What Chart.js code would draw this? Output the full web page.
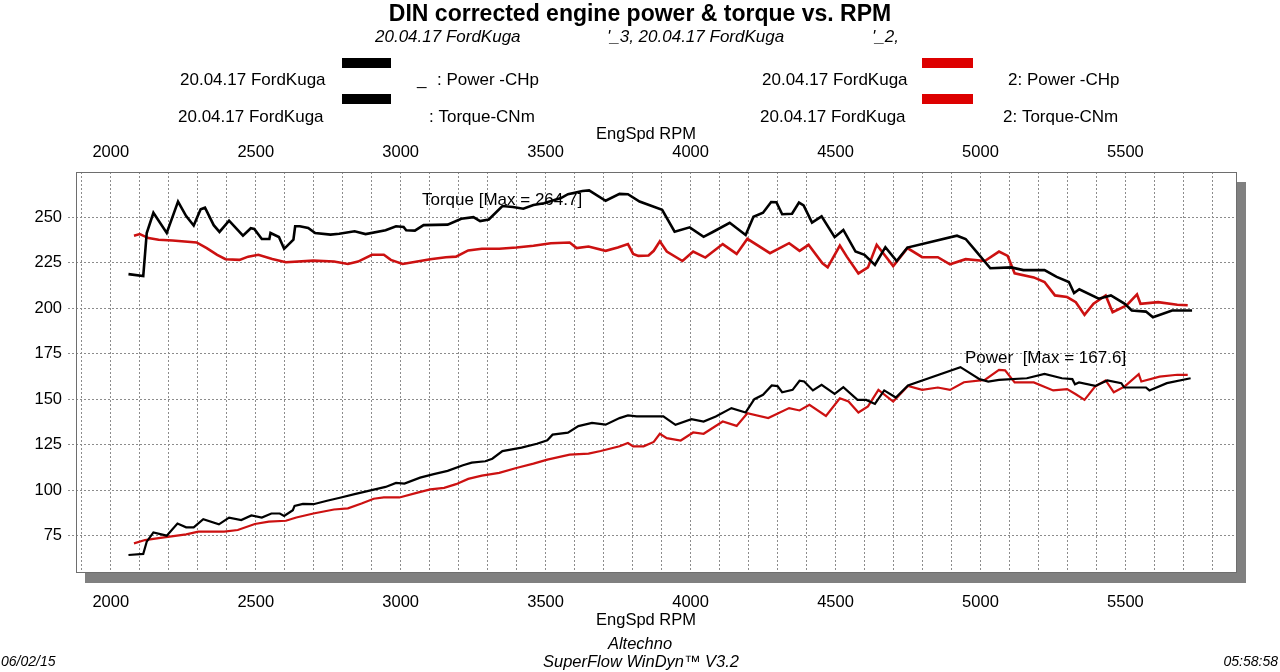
<!DOCTYPE html>
<html>
<head>
<meta charset="utf-8">
<title>DIN corrected engine power & torque vs. RPM</title>
<script src="https://cdn.jsdelivr.net/npm/chart.js@4.4.1/dist/chart.umd.min.js"></script>
<style>
  html, body { margin: 0; padding: 0; background: #fff; }
  canvas { display: block; }
</style>
</head>
<body>
<canvas id="dyno" width="1280" height="672"></canvas>
<script>
// run 1 (black) - torque
const tqBlackRpm = [
  2061, 2112, 2124, 2147, 2193, 2232, 2260, 2286, 2310, 2325,
  2355, 2375, 2408, 2456, 2483, 2495, 2521, 2547, 2551, 2580,
  2598, 2630, 2636, 2652, 2681, 2705, 2758, 2788, 2841, 2879,
  2948, 2984, 3010, 3019, 3049, 3079, 3162, 3209, 3251, 3274,
  3304, 3351, 3387, 3423, 3458, 3494, 3553, 3577, 3627, 3650,
  3707, 3755, 3784, 3824, 3902, 3945, 3997, 4045, 4075, 4135,
  4190, 4217, 4250, 4278, 4296, 4316, 4350, 4374, 4390, 4419,
  4452, 4497, 4527, 4569, 4600, 4636, 4672, 4711, 4748, 4919,
  4949, 4986, 5034, 5106, 5148, 5221, 5263, 5305, 5323, 5341,
  5408, 5450, 5498, 5522, 5571, 5595, 5661, 5730
];
const tqBlackNm = [
  218.7, 217.6, 241.3, 252.4, 241.3, 258.5, 250.6, 245.4, 254.3, 255.2,
  245.6, 241.9, 248.1, 239.8, 243.9, 243.5, 238.0, 238.0, 241.3, 239.1,
  232.6, 237.6, 245.0, 245.0, 244.1, 241.3, 240.4, 240.9, 242.2, 240.7,
  242.8, 245.0, 244.6, 242.8, 242.6, 245.6, 245.9, 249.1, 250.0, 247.8,
  248.7, 256.1, 255.6, 254.6, 256.7, 257.6, 260.5, 262.6, 264.4, 264.7,
  259.0, 262.8, 262.6, 258.6, 254.0, 242.0, 244.4, 239.2, 241.7, 246.9,
  240.2, 250.2, 252.4, 258.3, 258.2, 251.6, 251.9, 258.0, 256.5, 247.0,
  250.4, 239.0, 243.0, 231.1, 229.3, 223.7, 233.5, 225.9, 233.3, 239.8,
  238.0, 231.1, 221.9, 222.4, 220.9, 220.9, 217.2, 214.4, 208.3, 210.4,
  205.2, 207.0, 202.4, 198.7, 198.1, 195.0, 198.7, 198.7
];

// run 2 (red) - torque
const tqRedRpm = [
  2080, 2100, 2130, 2165, 2213, 2296, 2331, 2367, 2396, 2444,
  2474, 2509, 2557, 2604, 2699, 2770, 2818, 2853, 2901, 2942,
  2966, 3007, 3067, 3102, 3156, 3191, 3233, 3280, 3340, 3399,
  3458, 3518, 3583, 3607, 3648, 3707, 3749, 3784, 3802, 3820,
  3855, 3873, 3894, 3918, 3972, 4009, 4051, 4111, 4159, 4196,
  4274, 4340, 4376, 4407, 4455, 4473, 4515, 4539, 4579, 4612,
  4642, 4699, 4748, 4799, 4853, 4895, 4949, 5015, 5064, 5094,
  5118, 5184, 5221, 5257, 5299, 5329, 5359, 5390, 5432, 5456,
  5504, 5540, 5552, 5613, 5679, 5715
];
const tqRedNm = [
  239.8, 240.7, 238.5, 237.6, 237.2, 236.1, 233.0, 229.3, 226.9, 226.5,
  228.3, 229.3, 227.0, 225.2, 226.1, 225.6, 224.3, 225.6, 229.3, 229.3,
  226.5, 224.3, 225.9, 226.9, 228.0, 228.3, 231.7, 232.6, 232.6, 233.3,
  234.3, 235.7, 236.1, 233.0, 233.9, 231.5, 233.3, 235.2, 229.8, 228.7,
  228.9, 231.5, 236.7, 231.1, 225.9, 231.1, 227.8, 235.2, 229.8, 238.1,
  230.2, 235.7, 231.5, 234.8, 224.6, 222.4, 234.4, 228.3, 219.1, 222.4,
  234.8, 223.1, 233.0, 228.0, 228.0, 224.1, 226.9, 225.9, 231.1, 228.7,
  219.1, 216.9, 214.4, 207.0, 206.1, 203.3, 196.3, 202.4, 207.0, 197.8,
  201.5, 207.6, 202.4, 203.3, 201.9, 201.6
];

// run 1 (black) - power
const pwBlackRpm = [
  2061, 2112, 2124, 2147, 2193, 2230, 2260, 2286, 2319, 2373,
  2408, 2450, 2485, 2521, 2554, 2583, 2598, 2628, 2634, 2663,
  2699, 2746, 2794, 2841, 2889, 2948, 2984, 3013, 3067, 3114,
  3162, 3215, 3245, 3292, 3316, 3351, 3417, 3470, 3506, 3524,
  3577, 3613, 3660, 3707, 3755, 3784, 3814, 3906, 3948, 4003,
  4045, 4087, 4141, 4190, 4220, 4250, 4280, 4300, 4316, 4352,
  4376, 4392, 4422, 4452, 4497, 4527, 4576, 4606, 4636, 4668,
  4708, 4750, 4931, 4997, 5027, 5064, 5160, 5221, 5281, 5317,
  5326, 5340, 5396, 5438, 5486, 5496, 5571, 5583, 5643, 5725
];
const pwBlackHp = [
  64.4, 65.0, 71.7, 76.8, 75.0, 81.7, 79.6, 79.6, 84.1, 81.2,
  84.9, 83.6, 86.1, 85.0, 87.2, 87.2, 85.8, 89.0, 91.4, 92.5,
  92.3, 94.2, 96.0, 97.8, 99.6, 101.8, 104.0, 103.6, 106.9, 108.8,
  110.6, 113.7, 115.1, 115.9, 117.3, 121.5, 123.4, 125.5, 127.4, 130.5,
  131.6, 135.2, 137.0, 136.0, 139.6, 141.1, 140.5, 140.5, 135.9, 139.0,
  137.7, 140.5, 145.1, 142.7, 150.0, 152.4, 157.5, 157.2, 153.8, 155.1,
  160.1, 159.7, 154.8, 157.9, 152.9, 156.6, 149.6, 149.6, 147.4, 154.8,
  150.9, 157.5, 167.6, 161.0, 159.7, 160.6, 161.5, 163.9, 161.5, 161.0,
  158.2, 159.2, 157.3, 160.3, 158.8, 156.4, 156.4, 154.8, 158.8, 161.5
];

// run 2 (red) - power
const pwRedRpm = [
  2080, 2118, 2165, 2260, 2302, 2391, 2438, 2497, 2545, 2604,
  2640, 2699, 2770, 2818, 2865, 2907, 2942, 2996, 3055, 3102,
  3150, 3191, 3233, 3280, 3340, 3399, 3458, 3506, 3583, 3648,
  3690, 3755, 3784, 3802, 3838, 3873, 3894, 3918, 3966, 4009,
  4045, 4111, 4159, 4196, 4268, 4340, 4376, 4410, 4467, 4515,
  4545, 4579, 4612, 4648, 4699, 4750, 4799, 4853, 4895, 4943,
  5015, 5064, 5085, 5118, 5184, 5251, 5299, 5329, 5359, 5396,
  5432, 5460, 5498, 5546, 5555, 5618, 5679, 5715
];
const pwRedHp = [
  70.8, 72.6, 73.7, 75.7, 77.2, 77.2, 78.1, 81.4, 82.7, 83.2,
  85.0, 87.2, 89.4, 90.0, 92.7, 95.3, 96.0, 96.0, 98.5, 100.4,
  101.3, 103.3, 106.2, 108.0, 109.5, 112.2, 114.6, 116.8, 119.5, 120.1,
  121.5, 124.1, 125.9, 124.1, 124.1, 126.5, 131.0, 128.6, 127.3, 131.7,
  131.0, 137.7, 135.3, 142.3, 139.6, 145.1, 143.8, 146.9, 140.8, 150.5,
  148.7, 142.7, 146.0, 155.1, 148.7, 157.3, 155.1, 156.4, 155.1, 159.3,
  160.6, 166.1, 165.8, 159.2, 159.2, 154.8, 155.5, 152.7, 149.6, 157.0,
  160.3, 153.8, 157.0, 163.7, 159.7, 162.4, 163.4, 163.3
];

// axis ranges and ticks
const rpmMin = 1880;
const rpmMax = 5885;
const rpmGridStep = 100;
const rpmLabelStep = 500;
const yMin = 54.5;
const yMax = 274.8;
const yStep = 25;

const BLACK = "#000000";
const RED = "#cc1111";
const FONT = '"Liberation Sans", Arial, sans-serif';

function points(xs, ys) {
  return xs.map((x, i) => ({ x: x, y: ys[i] }));
}

// one tick per 100 rpm inside the range (Chart.js would stretch the step otherwise)
function rpmTicks(scale) {
  const list = [];
  for (let v = Math.ceil(rpmMin / rpmGridStep) * rpmGridStep; v <= rpmMax; v += rpmGridStep) {
    list.push({ value: v });
  }
  scale.ticks = list;
}

function rpmLabel(value) {
  return value % rpmLabelStep === 0 ? String(value) : "";
}

function text(ctx, str, x, y, font, align) {
  ctx.font = font;
  ctx.textAlign = align || "left";
  ctx.textBaseline = "middle";
  ctx.fillStyle = "#000";
  ctx.fillText(str, x, y);
}

// shadow, frame and all the loose texts of the dyno sheet
const sheet = {
  id: "sheet",
  beforeDraw(chart) {
    const { ctx, chartArea: a } = chart;
    ctx.save();
    ctx.fillStyle = "#fff";
    ctx.fillRect(0, 0, chart.width, chart.height);
    ctx.fillStyle = "#808080";
    ctx.fillRect(a.left + 9, a.top + 10, a.right - a.left, a.bottom - a.top);
    ctx.fillStyle = "#fff";
    ctx.fillRect(a.left, a.top, a.right - a.left, a.bottom - a.top);
    ctx.restore();
  },
  beforeDatasetsDraw(chart) {
    const ctx = chart.ctx;
    ctx.save();
    text(ctx, "Torque [Max = 264.7]", 422, 200, "17px " + FONT);
    text(ctx, "Power  [Max = 167.6]", 965, 358, "17px " + FONT);
    ctx.restore();
  },
  afterDraw(chart) {
    const { ctx, chartArea: a } = chart;
    ctx.save();
    ctx.strokeStyle = "#6e6e6e";
    ctx.lineWidth = 1;
    ctx.strokeRect(a.left + 0.5, a.top + 0.5, a.right - a.left - 1, a.bottom - a.top - 1);

    text(ctx, "DIN corrected engine power & torque vs. RPM", 640, 15, "bold 23px " + FONT, "center");

    // axis titles sit a bit left of the plot centre on the sheet
    text(ctx, "EngSpd RPM", 646, 134, "16.5px " + FONT, "center");
    text(ctx, "EngSpd RPM", 646, 620, "16.5px " + FONT, "center");

    const it = "italic 17px " + FONT;
    text(ctx, "20.04.17 FordKuga", 375, 37, it);
    text(ctx, "'_3, 20.04.17 FordKuga", 607, 37, it);
    text(ctx, "'_2,", 872, 37, it);

    const reg = "17px " + FONT;
    text(ctx, "20.04.17 FordKuga", 180, 80, reg);
    text(ctx, "_", 417, 80, reg);
    text(ctx, ": Power -CHp", 437, 80, reg);
    text(ctx, "20.04.17 FordKuga", 178, 117, reg);
    text(ctx, ": Torque-CNm", 429, 117, reg);
    text(ctx, "20.04.17 FordKuga", 762, 80, reg);
    text(ctx, "2: Power -CHp", 1008, 80, reg);
    text(ctx, "20.04.17 FordKuga", 760, 117, reg);
    text(ctx, "2: Torque-CNm", 1003, 117, reg);

    ctx.fillStyle = BLACK;
    ctx.fillRect(342, 58, 49, 10);
    ctx.fillRect(342, 94, 49, 10);
    ctx.fillStyle = "#dd0000";
    ctx.fillRect(922, 58, 51, 10);
    ctx.fillRect(922, 94, 51, 10);

    text(ctx, "Altechno", 640, 644, "italic 16.5px " + FONT, "center");
    text(ctx, "SuperFlow WinDyn\u2122 V3.2", 641, 662, "italic 16.5px " + FONT, "center");
    text(ctx, "06/02/15", 1, 662, "italic 14px " + FONT);
    text(ctx, "05:58:58", 1278, 662, "italic 14px " + FONT, "right");
    ctx.restore();
  }
};

const gridDash = [2, 2];

new Chart(document.getElementById("dyno"), {
  type: "line",
  data: {
    datasets: [
      { label: "Torque run 1", data: points(tqBlackRpm, tqBlackNm), borderColor: BLACK, borderWidth: 2.6 },
      { label: "Torque run 2", data: points(tqRedRpm, tqRedNm), borderColor: RED, borderWidth: 2.6 },
      { label: "Power run 1", data: points(pwBlackRpm, pwBlackHp), borderColor: BLACK, borderWidth: 2.2 },
      { label: "Power run 2", data: points(pwRedRpm, pwRedHp), borderColor: RED, borderWidth: 2.2 }
    ]
  },
  options: {
    responsive: false,
    animation: false,
    events: [],
    layout: { padding: { left: 0, top: 0, right: 43, bottom: 0 } },
    elements: { point: { radius: 0 }, line: { tension: 0, fill: false } },
    plugins: { legend: { display: false }, tooltip: { enabled: false } },
    scales: {
      x: {
        type: "linear",
        position: "bottom",
        min: rpmMin,
        max: rpmMax,
        afterBuildTicks: rpmTicks,
        afterFit: (s) => { s.height = 99; },
        border: { display: false, dash: gridDash },
        grid: { color: "#8c8c8c", lineWidth: 1, drawTicks: false },
        ticks: {
          autoSkip: false, maxRotation: 0,
          padding: 20, color: "#000", font: { family: FONT, size: 16.5 },
          callback: rpmLabel
        }
      },
      x2: {
        type: "linear",
        position: "top",
        min: rpmMin,
        max: rpmMax,
        afterBuildTicks: rpmTicks,
        afterFit: (s) => { s.height = 172; },
        border: { display: false },
        grid: { display: false, drawTicks: false },
        ticks: {
          autoSkip: false, maxRotation: 0,
          padding: 10, color: "#000", font: { family: FONT, size: 16.5 },
          callback: rpmLabel
        }
      },
      y: {
        type: "linear",
        position: "left",
        min: yMin,
        max: yMax,
        afterFit: (s) => { s.width = 76; },
        border: { display: false, dash: gridDash },
        grid: {
          color: "#8c8c8c", lineWidth: 1, drawTicks: true, tickLength: 8,
          tickColor: "#8c8c8c", tickBorderDash: gridDash
        },
        ticks: {
          stepSize: yStep, includeBounds: false, padding: 6, color: "#000",
          font: { family: FONT, size: 16.5 },
          callback: (v) => String(v)
        }
      }
    }
  },
  plugins: [sheet]
});
</script>
</body>
</html>
